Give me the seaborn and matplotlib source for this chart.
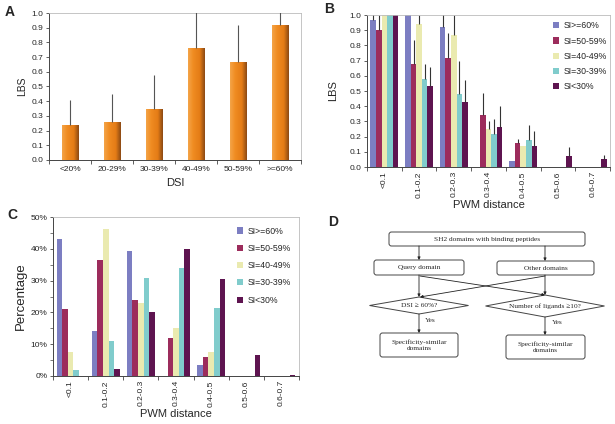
import numpy as np
import pandas as pd
import matplotlib
matplotlib.use("Agg")
import matplotlib.pyplot as plt
import seaborn as sns
from matplotlib.patches import FancyBboxPatch, Polygon
from matplotlib.colors import LinearSegmentedColormap
from matplotlib.ticker import FuncFormatter, MultipleLocator

# ---- data ----
dsi_cats = ["<20%", "20-29%", "30-39%", "40-49%", "50-59%", ">=60%"]
dsi_lbs = [0.24, 0.26, 0.35, 0.76, 0.67, 0.92]
dsi_err = [0.17, 0.19, 0.23, 0.30, 0.25, 0.15]

pwm_cats = ["<0.1", "0.1-0.2", "0.2-0.3", "0.3-0.4", "0.4-0.5", "0.5-0.6", "0.6-0.7"]
si_groups = ["SI>=60%", "SI=50-59%", "SI=40-49%", "SI=30-39%", "SI<30%"]
si_colors = ["#7C7EC2", "#9C2C5C", "#EAEAB0", "#80CCCC", "#5E1450"]

# panel B: LBS per PWM distance bin
lbs_si60 = [0.97, 1.00, 0.92, 0.0, 0.04, 0.0, 0.0]
lbs_si50 = [0.90, 0.68, 0.72, 0.345, 0.16, 0.0, 0.0]
lbs_si40 = [1.00, 0.94, 0.87, 0.25, 0.14, 0.0, 0.0]
lbs_si30 = [1.00, 0.58, 0.48, 0.215, 0.175, 0.0, 0.0]
lbs_si0 = [1.00, 0.53, 0.43, 0.26, 0.135, 0.075, 0.05]
# upper error bars (length)
err_si60 = [0.05, 0.0, 0.10, 0.0, 0.0, 0.0, 0.0]
err_si50 = [0.10, 0.155, 0.16, 0.14, 0.025, 0.0, 0.0]
err_si40 = [0.0, 0.06, 0.13, 0.055, 0.0, 0.0, 0.0]
err_si30 = [0.0, 0.095, 0.22, 0.10, 0.10, 0.0, 0.0]
err_si0 = [0.0, 0.125, 0.145, 0.14, 0.105, 0.055, 0.03]

# panel C: percentage per PWM distance bin
pct_si60 = [43.0, 14.2, 39.2, 0.0, 3.4, 0.0, 0.0]
pct_si50 = [21.0, 36.4, 24.0, 11.9, 5.9, 0.0, 0.0]
pct_si40 = [7.6, 46.3, 23.0, 15.1, 7.6, 0.0, 0.0]
pct_si30 = [1.9, 11.1, 30.9, 33.9, 21.5, 0.0, 0.0]
pct_si0 = [0.0, 2.1, 20.0, 40.0, 30.6, 6.5, 0.2]

sns.set_theme(style="white")
plt.rcParams["font.family"] = ["Liberation Sans", "DejaVu Sans"]

W, H = 615, 424
fig = plt.figure(figsize=(W / 100, H / 100), dpi=100)


def px_axes(l, t, r, b):
    return fig.add_axes([l / W, 1 - b / H, (r - l) / W, (b - t) / H])


def style_axes(ax):
    for s in ["top", "right"]:
        ax.spines[s].set_color("#BBBBBB")
        ax.spines[s].set_linewidth(0.6)
    for s in ["left", "bottom"]:
        ax.spines[s].set_color("#444444")
        ax.spines[s].set_linewidth(0.7)
    ax.tick_params(axis="y", which="major", left=True, length=2.5, width=0.6,
                   color="#444444", labelsize=6, pad=1.5)
    ax.tick_params(axis="x", which="major", length=0, labelsize=6, pad=3)
    ax.tick_params(axis="x", which="minor", bottom=True, length=3, width=0.6,
                   color="#444444")


def long_df(cols, name):
    rows = []
    for g, vals in zip(si_groups, cols):
        for c, v in zip(pwm_cats, vals):
            rows.append({"pwm": c, "si": g, name: v})
    return pd.DataFrame(rows)


orange = LinearSegmentedColormap.from_list(
    "orange", [(0, "#F4A448"), (0.3, "#F08C22"), (0.7, "#E47C16"), (1, "#8C4A14")])

# ---- panel A ----
axA = px_axes(49, 13, 301, 160)
sns.barplot(x=dsi_cats, y=dsi_lbs, color="#EC8A1E", saturation=1, width=0.4,
            linewidth=0, ax=axA)
grad = np.linspace(0, 1, 64).reshape(1, -1)
for bar, e in zip(list(axA.patches), dsi_err):
    x0, w, h = bar.get_x(), bar.get_width(), bar.get_height()
    im = axA.imshow(grad, extent=[x0, x0 + w, 0, h], cmap=orange,
                    aspect="auto", zorder=bar.get_zorder() + 0.1)
    im.set_clip_path(bar)
    axA.vlines(x0 + w / 2, h, h + e, color="#555555", lw=0.8, zorder=5)
axA.set_ylim(0, 1.0)
axA.set_xlim(-0.5, len(dsi_cats) - 0.5)
axA.yaxis.set_major_locator(MultipleLocator(0.1))
axA.yaxis.set_major_formatter(FuncFormatter(lambda v, p: f"{v:.1f}"))
axA.set_xticks(np.arange(-0.5, len(dsi_cats), 1), minor=True)
style_axes(axA)
axA.tick_params(axis="x", which="major", pad=4)
axA.set_ylabel("LBS", fontsize=7.5, labelpad=3)
axA.set_xlabel("DSI", fontsize=8, labelpad=4)

# ---- panel B ----
axB = px_axes(367, 15, 610, 167)
dfB = long_df([lbs_si60, lbs_si50, lbs_si40, lbs_si30, lbs_si0], "lbs")
sns.barplot(data=dfB, x="pwm", y="lbs", hue="si", palette=si_colors,
            saturation=1, errorbar=None, linewidth=0, ax=axB)
for cont, errs in zip(axB.containers,
                      [err_si60, err_si50, err_si40, err_si30, err_si0]):
    for bar, e in zip(cont, errs):
        if e > 0:
            xc = bar.get_x() + bar.get_width() / 2
            h = bar.get_height()
            axB.vlines(xc, h, h + e, color="#333333", lw=0.8)
axB.set_ylim(0, 1.0)
axB.set_xlim(-0.5, len(pwm_cats) - 0.5)
axB.yaxis.set_major_locator(MultipleLocator(0.1))
axB.yaxis.set_major_formatter(FuncFormatter(lambda v, p: f"{v:.1f}"))
axB.set_xticks(np.arange(-0.5, len(pwm_cats), 1), minor=True)
style_axes(axB)
axB.tick_params(axis="x", labelrotation=90)
axB.set_ylabel("LBS", fontsize=8, labelpad=8)
axB.set_xlabel("PWM distance", fontsize=8, labelpad=2)
axB.legend(loc="upper left", bbox_to_anchor=(0.765, 0.958), frameon=False,
           fontsize=6.3, handlelength=0.7, handleheight=0.7, handletextpad=0.5,
           labelspacing=0.7, borderpad=0, borderaxespad=0)

# ---- panel C ----
axC = px_axes(53, 217, 299, 376)
dfC = long_df([pct_si60, pct_si50, pct_si40, pct_si30, pct_si0], "pct")
sns.barplot(data=dfC, x="pwm", y="pct", hue="si", palette=si_colors,
            saturation=1, errorbar=None, linewidth=0, ax=axC)
axC.set_ylim(0, 50)
axC.set_xlim(-0.5, len(pwm_cats) - 0.5)
axC.yaxis.set_major_locator(MultipleLocator(10))
axC.yaxis.set_minor_locator(MultipleLocator(5))
axC.yaxis.set_major_formatter(FuncFormatter(lambda v, p: f"{v:.0f}%"))
axC.set_xticks(np.arange(-0.5, len(pwm_cats), 1), minor=True)
style_axes(axC)
axC.tick_params(axis="y", which="minor", left=True, length=2, width=0.5,
                color="#444444")
axC.tick_params(axis="x", labelrotation=90)
axC.set_ylabel("Percentage", fontsize=9.5, labelpad=3)
axC.set_xlabel("PWM distance", fontsize=8, labelpad=2)
axC.legend(loc="upper left", bbox_to_anchor=(0.749, 0.94), frameon=False,
           fontsize=6.3, handlelength=0.7, handleheight=0.7, handletextpad=0.5,
           labelspacing=0.95, borderpad=0, borderaxespad=0)

# ---- panel D: flowchart ----
axD = fig.add_axes([0, 0, 1, 1])
axD.set_xlim(0, W)
axD.set_ylim(H, 0)
axD.axis("off")
axD.patch.set_visible(False)

serif = ["Liberation Serif", "DejaVu Serif"]
line_c = "#444444"


def box(l, t, r, b, text):
    axD.add_patch(FancyBboxPatch((l, t), r - l, b - t,
                                 boxstyle="round,pad=0,rounding_size=2.5",
                                 fc="white", ec=line_c, lw=0.7))
    axD.text((l + r) / 2, (t + b) / 2, text, ha="center", va="center",
             fontsize=5.3, family=serif, linespacing=1.4)


def diamond(cx, cy, hw, hh, text):
    axD.add_patch(Polygon([(cx - hw, cy), (cx, cy - hh), (cx + hw, cy),
                           (cx, cy + hh)], closed=True, fc="white",
                          ec=line_c, lw=0.7))
    axD.text(cx, cy, text, ha="center", va="center", fontsize=5.3, family=serif)


def arrow(x0, y0, x1, y1):
    axD.annotate("", xy=(x1, y1), xytext=(x0, y0),
                 arrowprops=dict(arrowstyle="-|>", lw=0.6, color="#222222",
                                 mutation_scale=4, shrinkA=0, shrinkB=0))


box(389, 232, 585, 246, "SH2 domains with binding peptides")
box(374, 260, 464, 275, "Query domain")
box(497, 261, 594, 275, "Other domains")
arrow(419, 246, 419, 260)
arrow(545, 246, 545, 261)
arrow(419, 275, 419, 297)
arrow(545, 275, 545, 295)
arrow(420, 276, 545, 295)
arrow(545, 276, 420, 297)
diamond(419, 305.5, 49.5, 8.5, "DSI \u2265 60%?")
diamond(545, 306, 59.5, 11, "Number of ligands \u226510?")
axD.text(425, 320, "Yes", fontsize=5.3, family=serif, va="center")
axD.text(552, 322, "Yes", fontsize=5.3, family=serif, va="center")
arrow(419, 314, 419, 333)
arrow(545, 317, 545, 335)
box(380, 333, 458, 357, "Specificity-similar\ndomains")
box(506, 335, 585, 359, "Specificity-similar\ndomains")

# panel letters
for lab, x, y in [("A", 10, 12), ("B", 329, 9), ("C", 12, 215), ("D", 333, 222)]:
    fig.text(x / W, 1 - y / H, lab, fontsize=10, fontweight="bold",
             ha="center", va="center")

fig.savefig("out.png", dpi=100)
